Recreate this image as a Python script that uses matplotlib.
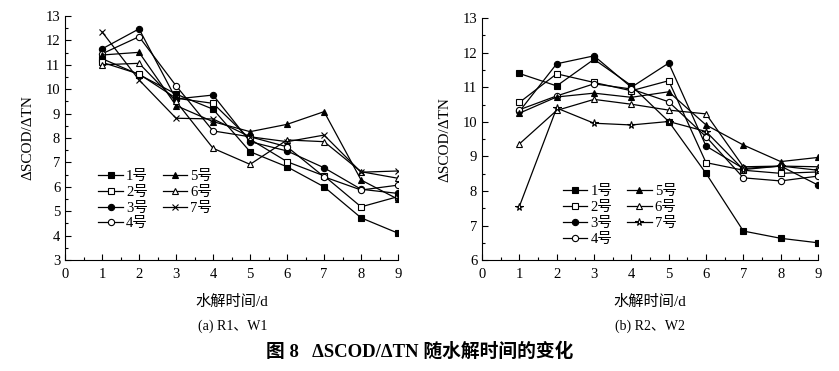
#!/usr/bin/env python3
"""ΔSCOD/ΔTN 随水解时间的变化 — two panels (a) R1、W1 and (b) R2、W2."""
import matplotlib
matplotlib.use('Agg')
import matplotlib.pyplot as plt
from matplotlib.ticker import MultipleLocator

plt.rcParams['font.family'] = ['Liberation Serif', 'Noto Sans CJK SC']
plt.rcParams['axes.unicode_minus'] = False

days = [1, 2, 3, 4, 5, 6, 7, 8, 9]
labels = ['1号', '2号', '3号', '4号', '5号', '6号', '7号']

# (a) R1、W1
left_vals = [
    [11.25, 10.6, 9.8, 9.18, 7.44, 6.82, 6.0, 4.73, 4.1],
    [11.1, 10.62, 9.63, 9.42, 7.95, 7.03, 6.45, 5.18, 5.6],
    [11.65, 12.47, 9.6, 9.76, 7.85, 7.47, 6.78, 5.9, 5.73],
    [11.45, 12.15, 10.14, 8.29, 8.05, 7.64, 6.41, 5.87, 6.07],
    [11.4, 11.51, 9.33, 8.67, 8.26, 8.56, 9.08, 6.28, 5.49],
    [11.0, 11.06, 9.5, 7.58, 6.92, 7.92, 7.85, 6.62, 6.35],
    [12.35, 10.38, 8.81, 8.78, 8.05, 7.85, 8.12, 6.6, 6.65],
]

# (b) R2、W2
right_vals = [
    [11.4, 11.04, 11.81, 11.05, 10.01, 8.51, 6.84, 6.63, 6.5],
    [10.56, 11.39, 11.14, 10.9, 11.19, 8.82, 8.6, 8.51, 8.55],
    [10.3, 11.68, 11.91, 11.0, 11.7, 9.3, 8.65, 8.72, 8.17],
    [10.35, 10.75, 11.1, 10.95, 10.58, 9.57, 8.38, 8.29, 8.43],
    [10.25, 10.72, 10.83, 10.71, 10.87, 9.91, 9.33, 8.85, 8.97],
    [9.36, 10.33, 10.65, 10.51, 10.34, 10.23, 8.7, 8.72, 8.7],
    [7.55, 10.4, 9.96, 9.91, 10.01, 9.72, 8.62, 8.72, 8.6],
]

# marker, face colour
styles = [('s', 'black'), ('s', 'white'), ('o', 'black'), ('o', 'white'),
          ('^', 'black'), ('^', 'white'), (None, 'white')]

fig = plt.figure(figsize=(8.39, 3.71), dpi=100)
ax1 = fig.add_axes([0.0775, 0.299, 0.397, 0.658])
ax2 = fig.add_axes([0.5745, 0.299, 0.4005, 0.652])


def draw(ax, vals, last_marker, ylim, leg_anchor):
    for i, (lab, ys) in enumerate(zip(labels, vals)):
        m, fc = styles[i]
        if m is None:
            m = last_marker
        ms = 5.5 if m == '*' else 4.5
        ax.plot(days, ys, color='black', lw=0.9, marker=m, ms=ms,
                mfc=fc, mec='black', mew=0.8, label=lab)
    ax.set_xlim(0, 9)
    ax.set_ylim(*ylim)
    ax.xaxis.set_major_locator(MultipleLocator(1))
    ax.xaxis.set_minor_locator(MultipleLocator(0.5))
    ax.yaxis.set_major_locator(MultipleLocator(1))
    ax.yaxis.set_minor_locator(MultipleLocator(0.5))
    ax.tick_params(which='both', direction='in', labelsize=10.5, width=0.8)
    ax.tick_params(which='major', length=4)
    ax.tick_params(which='minor', length=2)
    ax.tick_params(axis='x', pad=6)
    for s in ('top', 'right'):
        ax.spines[s].set_visible(False)
    for s in ('left', 'bottom'):
        ax.spines[s].set_linewidth(0.8)
    ax.set_ylabel('ΔSCOD/ΔTN', fontsize=11, labelpad=8)
    ax.set_xlabel('水解时间/d', fontsize=11, labelpad=10)
    ax.legend(loc='upper left', bbox_to_anchor=leg_anchor, ncol=2,
              frameon=False, fontsize=10.5, handlelength=1.7,
              handletextpad=0.2, labelspacing=0.18, columnspacing=1.0,
              borderpad=0, borderaxespad=0)


draw(ax1, left_vals, 'x', (3, 13), (0.1, 0.37))
draw(ax2, right_vals, '*', (6, 13), (0.24, 0.31))

fig.text(0.277, 0.12, '(a) R1、W1', ha='center', va='center', fontsize=10)
fig.text(0.775, 0.12, '(b) R2、W2', ha='center', va='center', fontsize=10)
fig.text(0.5, 0.052, '图 8   ΔSCOD/ΔTN 随水解时间的变化', ha='center',
         va='center', fontsize=13.5, fontweight='bold')

fig.savefig('out.png', dpi=100)
